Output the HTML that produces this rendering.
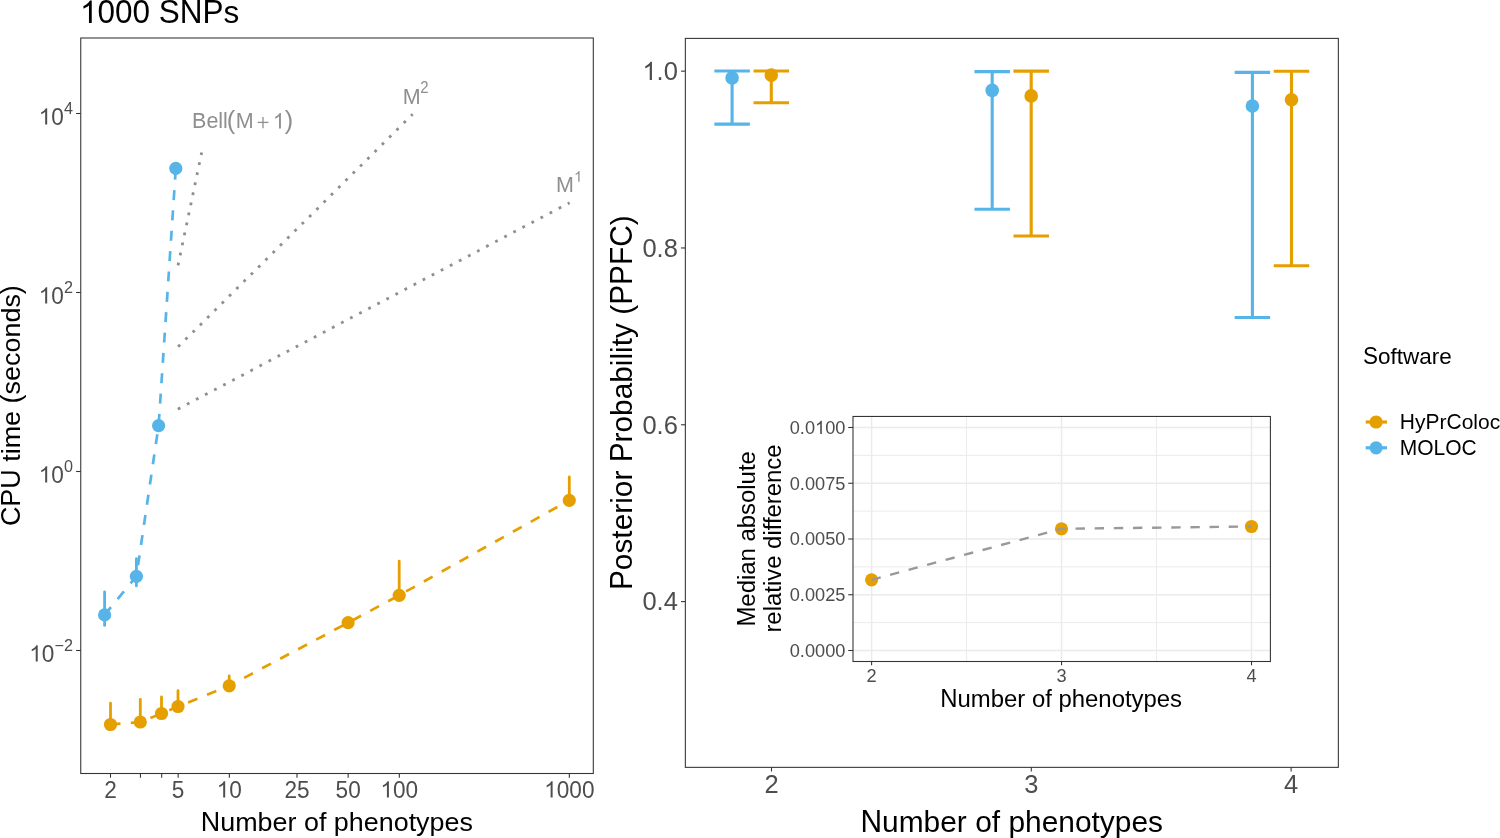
<!DOCTYPE html>
<html><head><meta charset="utf-8"><title>chart</title><style>
html,body{margin:0;padding:0;background:#fff;}
svg{display:block;will-change:transform;}
text{font-family:"Liberation Sans",sans-serif;}
</style></head><body>
<svg width="1500" height="838" viewBox="0 0 1500 838">
<rect width="1500" height="838" fill="#fff"/>
<g transform="translate(80.00 23.05)" font-size="31.50" fill="#000"><path transform="translate(0.00 0) scale(0.01538 -0.01538)" d="M763 0L583 0L583 1147C540 1106 483 1064 413 1023C342 982 279 951 223 930L223 1104C324 1151 412 1209 487 1276C562 1343 615 1407 646 1466L763 1466Z"/><text transform="translate(17.52 0) scale(1 1.04)">000</text><text transform="translate(78.83 0) scale(1 1.04)">SNP</text><text transform="translate(143.60 0) scale(1 0.985)">s</text></g>
<g transform="translate(19.60 526.10) rotate(-90)" font-size="26.93" fill="#000"><text transform="translate(0.00 0) scale(1 1.04)">CPU</text><text transform="translate(64.34 0) scale(1 0.985)">time</text><text x="122.70" y="0">(</text><text transform="translate(131.67 0) scale(1 0.985)">seconds</text><text x="231.97" y="0">)</text></g>
<g transform="translate(200.80 831.40)" font-size="26.90" fill="#000"><text transform="translate(0.00 0) scale(1 1.04)">N</text><text transform="translate(19.43 0) scale(1 0.985)">umber</text><text transform="translate(103.15 0) scale(1 0.985)">of</text><text transform="translate(133.06 0) scale(1 0.985)">phenotypes</text></g>
<line x1="76.10" y1="113.50" x2="80.75" y2="113.50" stroke="#333333" stroke-width="1.07"/>
<g transform="translate(38.75 124.50)" font-size="22.60" fill="#4D4D4D"><path transform="translate(0.00 0) scale(0.01104 -0.01104)" d="M763 0L583 0L583 1147C540 1106 483 1064 413 1023C342 982 279 951 223 930L223 1104C324 1151 412 1209 487 1276C562 1343 615 1407 646 1466L763 1466Z"/><text transform="translate(12.57 0) scale(1 1.04)">0</text></g>
<g transform="translate(63.89 113.70)" font-size="16.20" fill="#4D4D4D"><text transform="translate(0.00 0) scale(1 1.04)">4</text></g>
<line x1="76.10" y1="292.50" x2="80.75" y2="292.50" stroke="#333333" stroke-width="1.07"/>
<g transform="translate(38.75 303.50)" font-size="22.60" fill="#4D4D4D"><path transform="translate(0.00 0) scale(0.01104 -0.01104)" d="M763 0L583 0L583 1147C540 1106 483 1064 413 1023C342 982 279 951 223 930L223 1104C324 1151 412 1209 487 1276C562 1343 615 1407 646 1466L763 1466Z"/><text transform="translate(12.57 0) scale(1 1.04)">0</text></g>
<g transform="translate(63.89 292.70)" font-size="16.20" fill="#4D4D4D"><text transform="translate(0.00 0) scale(1 1.04)">2</text></g>
<line x1="76.10" y1="471.50" x2="80.75" y2="471.50" stroke="#333333" stroke-width="1.07"/>
<g transform="translate(38.75 482.50)" font-size="22.60" fill="#4D4D4D"><path transform="translate(0.00 0) scale(0.01104 -0.01104)" d="M763 0L583 0L583 1147C540 1106 483 1064 413 1023C342 982 279 951 223 930L223 1104C324 1151 412 1209 487 1276C562 1343 615 1407 646 1466L763 1466Z"/><text transform="translate(12.57 0) scale(1 1.04)">0</text></g>
<g transform="translate(63.89 471.70)" font-size="16.20" fill="#4D4D4D"><text transform="translate(0.00 0) scale(1 1.04)">0</text></g>
<line x1="76.10" y1="650.50" x2="80.75" y2="650.50" stroke="#333333" stroke-width="1.07"/>
<g transform="translate(29.29 661.50)" font-size="22.60" fill="#4D4D4D"><path transform="translate(0.00 0) scale(0.01104 -0.01104)" d="M763 0L583 0L583 1147C540 1106 483 1064 413 1023C342 982 279 951 223 930L223 1104C324 1151 412 1209 487 1276C562 1343 615 1407 646 1466L763 1466Z"/><text transform="translate(12.57 0) scale(1 1.04)">0</text></g>
<g transform="translate(54.43 650.70)" font-size="16.20" fill="#4D4D4D"><text x="0.00" y="0">−</text><text transform="translate(9.46 0) scale(1 1.04)">2</text></g>
<line x1="110.50" y1="773.50" x2="110.50" y2="777.70" stroke="#333333" stroke-width="1.07"/>
<line x1="140.44" y1="773.50" x2="140.44" y2="777.70" stroke="#333333" stroke-width="1.07"/>
<line x1="161.68" y1="773.50" x2="161.68" y2="777.70" stroke="#333333" stroke-width="1.07"/>
<line x1="178.15" y1="773.50" x2="178.15" y2="777.70" stroke="#333333" stroke-width="1.07"/>
<line x1="229.32" y1="773.50" x2="229.32" y2="777.70" stroke="#333333" stroke-width="1.07"/>
<line x1="296.97" y1="773.50" x2="296.97" y2="777.70" stroke="#333333" stroke-width="1.07"/>
<line x1="348.15" y1="773.50" x2="348.15" y2="777.70" stroke="#333333" stroke-width="1.07"/>
<line x1="399.32" y1="773.50" x2="399.32" y2="777.70" stroke="#333333" stroke-width="1.07"/>
<line x1="569.32" y1="773.50" x2="569.32" y2="777.70" stroke="#333333" stroke-width="1.07"/>
<g transform="translate(104.22 797.50)" font-size="22.60" fill="#4D4D4D"><text transform="translate(0.00 0) scale(1 1.04)">2</text></g>
<g transform="translate(171.87 797.50)" font-size="22.60" fill="#4D4D4D"><text transform="translate(0.00 0) scale(1 1.04)">5</text></g>
<g transform="translate(216.76 797.50)" font-size="22.60" fill="#4D4D4D"><path transform="translate(0.00 0) scale(0.01104 -0.01104)" d="M763 0L583 0L583 1147C540 1106 483 1064 413 1023C342 982 279 951 223 930L223 1104C324 1151 412 1209 487 1276C562 1343 615 1407 646 1466L763 1466Z"/><text transform="translate(12.57 0) scale(1 1.04)">0</text></g>
<g transform="translate(284.41 797.50)" font-size="22.60" fill="#4D4D4D"><text transform="translate(0.00 0) scale(1 1.04)">25</text></g>
<g transform="translate(335.58 797.50)" font-size="22.60" fill="#4D4D4D"><text transform="translate(0.00 0) scale(1 1.04)">50</text></g>
<g transform="translate(380.47 797.50)" font-size="22.60" fill="#4D4D4D"><path transform="translate(0.00 0) scale(0.01104 -0.01104)" d="M763 0L583 0L583 1147C540 1106 483 1064 413 1023C342 982 279 951 223 930L223 1104C324 1151 412 1209 487 1276C562 1343 615 1407 646 1466L763 1466Z"/><text transform="translate(12.57 0) scale(1 1.04)">00</text></g>
<g transform="translate(544.19 797.50)" font-size="22.60" fill="#4D4D4D"><path transform="translate(0.00 0) scale(0.01104 -0.01104)" d="M763 0L583 0L583 1147C540 1106 483 1064 413 1023C342 982 279 951 223 930L223 1104C324 1151 412 1209 487 1276C562 1343 615 1407 646 1466L763 1466Z"/><text transform="translate(12.57 0) scale(1 1.04)">000</text></g>
<polyline points="178.01,265.37 201.69,152.43" fill="none" stroke="#8F8F8F" stroke-width="2.8" stroke-dasharray="2.8 7.45"/>
<polyline points="178.11,346.79 412.69,114.21" fill="none" stroke="#8F8F8F" stroke-width="2.8" stroke-dasharray="2.8 7.45"/>
<polyline points="177.86,409.15 569.64,202.65" fill="none" stroke="#8F8F8F" stroke-width="2.8" stroke-dasharray="2.8 7.45"/>
<g transform="translate(192.04 128.40)" font-size="21.50" fill="#8F8F8F"><text transform="translate(0.00 0) scale(1 1.04)">B</text><text transform="translate(14.34 0) scale(1 0.985)">ell</text></g>
<g transform="translate(226.63 129.10)" font-size="25.30" fill="#8F8F8F"><text x="0.00" y="0">(</text></g>
<g transform="translate(235.64 128.40)" font-size="21.50" fill="#8F8F8F"><text transform="translate(0.00 0) scale(1 1.04)">M</text></g>
<line x1="257.60" y1="122.40" x2="268.40" y2="122.40" stroke="#8F8F8F" stroke-width="1.3"/>
<line x1="263.00" y1="117.00" x2="263.00" y2="128.20" stroke="#8F8F8F" stroke-width="1.3"/>
<g transform="translate(272.90 128.40)" font-size="21.50" fill="#8F8F8F"><path transform="translate(0.00 0) scale(0.01050 -0.01050)" d="M763 0L583 0L583 1147C540 1106 483 1064 413 1023C342 982 279 951 223 930L223 1104C324 1151 412 1209 487 1276C562 1343 615 1407 646 1466L763 1466Z"/></g>
<g transform="translate(284.85 129.10)" font-size="25.30" fill="#8F8F8F"><text x="0.00" y="0">)</text></g>
<g transform="translate(402.64 103.60)" font-size="21.50" fill="#8F8F8F"><text transform="translate(0.00 0) scale(1 1.04)">M</text></g>
<g transform="translate(420.25 92.70)" font-size="15.00" fill="#8F8F8F"><text transform="translate(0.00 0) scale(1 1.04)">2</text></g>
<g transform="translate(556.00 192.10)" font-size="21.50" fill="#8F8F8F"><text transform="translate(0.00 0) scale(1 1.04)">M</text></g>
<g transform="translate(573.96 181.80)" font-size="15.00" fill="#8F8F8F"><path transform="translate(0.00 0) scale(0.00732 -0.00732)" d="M763 0L583 0L583 1147C540 1106 483 1064 413 1023C342 982 279 951 223 930L223 1104C324 1151 412 1209 487 1276C562 1343 615 1407 646 1466L763 1466Z"/></g>
<polyline points="104.60,614.90 136.40,576.30 158.60,425.60 175.80,168.40" fill="none" stroke="#56B4E9" stroke-width="2.7" stroke-dasharray="10 10.4"/>
<polyline points="110.50,724.50 140.30,722.00 161.50,713.50 178.00,706.50 229.20,685.80 348.10,622.70 399.20,595.30 569.30,500.30" fill="none" stroke="#E69F00" stroke-width="2.7" stroke-dasharray="10 10.4"/>
<line x1="104.60" y1="591.80" x2="104.60" y2="625.40" stroke="#56B4E9" stroke-width="2.8" stroke-linecap="round"/>
<line x1="136.40" y1="558.60" x2="136.40" y2="585.90" stroke="#56B4E9" stroke-width="2.8" stroke-linecap="round"/>
<line x1="110.50" y1="703.20" x2="110.50" y2="724.50" stroke="#E69F00" stroke-width="2.8" stroke-linecap="round"/>
<line x1="140.30" y1="699.40" x2="140.30" y2="722.00" stroke="#E69F00" stroke-width="2.8" stroke-linecap="round"/>
<line x1="161.50" y1="696.90" x2="161.50" y2="713.50" stroke="#E69F00" stroke-width="2.8" stroke-linecap="round"/>
<line x1="178.00" y1="690.70" x2="178.00" y2="706.50" stroke="#E69F00" stroke-width="2.8" stroke-linecap="round"/>
<line x1="229.20" y1="675.90" x2="229.20" y2="685.80" stroke="#E69F00" stroke-width="2.8" stroke-linecap="round"/>
<line x1="399.20" y1="561.10" x2="399.20" y2="595.30" stroke="#E69F00" stroke-width="2.8" stroke-linecap="round"/>
<line x1="569.30" y1="476.90" x2="569.30" y2="500.30" stroke="#E69F00" stroke-width="2.8" stroke-linecap="round"/>
<circle cx="104.60" cy="614.90" r="6.6" fill="#56B4E9"/>
<circle cx="136.40" cy="576.30" r="6.6" fill="#56B4E9"/>
<circle cx="158.60" cy="425.60" r="6.6" fill="#56B4E9"/>
<circle cx="175.80" cy="168.40" r="6.6" fill="#56B4E9"/>
<circle cx="110.50" cy="724.50" r="6.6" fill="#E69F00"/>
<circle cx="140.30" cy="722.00" r="6.6" fill="#E69F00"/>
<circle cx="161.50" cy="713.50" r="6.6" fill="#E69F00"/>
<circle cx="178.00" cy="706.50" r="6.6" fill="#E69F00"/>
<circle cx="229.20" cy="685.80" r="6.6" fill="#E69F00"/>
<circle cx="348.10" cy="622.70" r="6.6" fill="#E69F00"/>
<circle cx="399.20" cy="595.30" r="6.6" fill="#E69F00"/>
<circle cx="569.30" cy="500.30" r="6.6" fill="#E69F00"/>
<rect x="80.75" y="38.00" width="512.55" height="735.50" fill="none" stroke="#333333" stroke-width="1.07"/>
<line x1="681.00" y1="71.15" x2="685.35" y2="71.15" stroke="#333333" stroke-width="1.07"/>
<g transform="translate(642.45 79.95)" font-size="25.50" fill="#4D4D4D"><path transform="translate(0.00 0) scale(0.01245 -0.01245)" d="M763 0L583 0L583 1147C540 1106 483 1064 413 1023C342 982 279 951 223 930L223 1104C324 1151 412 1209 487 1276C562 1343 615 1407 646 1466L763 1466Z"/><text x="14.18" y="0">.</text><text transform="translate(21.27 0) scale(1 1.04)">0</text></g>
<line x1="681.00" y1="247.97" x2="685.35" y2="247.97" stroke="#333333" stroke-width="1.07"/>
<g transform="translate(642.45 256.77)" font-size="25.50" fill="#4D4D4D"><text transform="translate(0.00 0) scale(1 1.04)">0</text><text x="14.18" y="0">.</text><text transform="translate(21.27 0) scale(1 1.04)">8</text></g>
<line x1="681.00" y1="424.79" x2="685.35" y2="424.79" stroke="#333333" stroke-width="1.07"/>
<g transform="translate(642.45 433.59)" font-size="25.50" fill="#4D4D4D"><text transform="translate(0.00 0) scale(1 1.04)">0</text><text x="14.18" y="0">.</text><text transform="translate(21.27 0) scale(1 1.04)">6</text></g>
<line x1="681.00" y1="601.61" x2="685.35" y2="601.61" stroke="#333333" stroke-width="1.07"/>
<g transform="translate(642.45 610.41)" font-size="25.50" fill="#4D4D4D"><text transform="translate(0.00 0) scale(1 1.04)">0</text><text x="14.18" y="0">.</text><text transform="translate(21.27 0) scale(1 1.04)">4</text></g>
<line x1="771.50" y1="767.35" x2="771.50" y2="771.50" stroke="#333333" stroke-width="1.07"/>
<g transform="translate(764.41 793.40)" font-size="25.50" fill="#4D4D4D"><text transform="translate(0.00 0) scale(1 1.04)">2</text></g>
<line x1="1031.30" y1="767.35" x2="1031.30" y2="771.50" stroke="#333333" stroke-width="1.07"/>
<g transform="translate(1024.21 793.40)" font-size="25.50" fill="#4D4D4D"><text transform="translate(0.00 0) scale(1 1.04)">3</text></g>
<line x1="1291.10" y1="767.35" x2="1291.10" y2="771.50" stroke="#333333" stroke-width="1.07"/>
<g transform="translate(1284.01 793.40)" font-size="25.50" fill="#4D4D4D"><text transform="translate(0.00 0) scale(1 1.04)">4</text></g>
<g transform="translate(631.80 590.05) rotate(-90)" font-size="29.84" fill="#000"><text transform="translate(0.00 0) scale(1 1.04)">P</text><text transform="translate(19.90 0) scale(1 0.985)">osterior</text><text transform="translate(127.70 0) scale(1 1.04)">P</text><text transform="translate(147.60 0) scale(1 0.985)">robability</text><text x="275.31" y="0">(</text><text transform="translate(285.25 0) scale(1 1.04)">PPFC</text><text x="364.83" y="0">)</text></g>
<g transform="translate(860.45 831.70)" font-size="29.91" fill="#000"><text transform="translate(0.00 0) scale(1 1.04)">N</text><text transform="translate(21.60 0) scale(1 0.985)">umber</text><text transform="translate(114.69 0) scale(1 0.985)">of</text><text transform="translate(147.94 0) scale(1 0.985)">phenotypes</text></g>
<line x1="732.10" y1="71.00" x2="732.10" y2="124.10" stroke="#56B4E9" stroke-width="3.1"/>
<line x1="714.35" y1="71.00" x2="749.85" y2="71.00" stroke="#56B4E9" stroke-width="3.1"/>
<line x1="714.35" y1="124.10" x2="749.85" y2="124.10" stroke="#56B4E9" stroke-width="3.1"/>
<circle cx="732.10" cy="77.90" r="6.8" fill="#56B4E9"/>
<line x1="771.30" y1="71.00" x2="771.30" y2="102.80" stroke="#E69F00" stroke-width="3.1"/>
<line x1="753.55" y1="71.00" x2="789.05" y2="71.00" stroke="#E69F00" stroke-width="3.1"/>
<line x1="753.55" y1="102.80" x2="789.05" y2="102.80" stroke="#E69F00" stroke-width="3.1"/>
<circle cx="771.30" cy="75.10" r="6.8" fill="#E69F00"/>
<line x1="992.20" y1="71.60" x2="992.20" y2="209.30" stroke="#56B4E9" stroke-width="3.1"/>
<line x1="974.45" y1="71.60" x2="1009.95" y2="71.60" stroke="#56B4E9" stroke-width="3.1"/>
<line x1="974.45" y1="209.30" x2="1009.95" y2="209.30" stroke="#56B4E9" stroke-width="3.1"/>
<circle cx="992.20" cy="90.40" r="6.8" fill="#56B4E9"/>
<line x1="1031.20" y1="71.10" x2="1031.20" y2="236.00" stroke="#E69F00" stroke-width="3.1"/>
<line x1="1013.45" y1="71.10" x2="1048.95" y2="71.10" stroke="#E69F00" stroke-width="3.1"/>
<line x1="1013.45" y1="236.00" x2="1048.95" y2="236.00" stroke="#E69F00" stroke-width="3.1"/>
<circle cx="1031.20" cy="95.90" r="6.8" fill="#E69F00"/>
<line x1="1252.40" y1="72.40" x2="1252.40" y2="317.50" stroke="#56B4E9" stroke-width="3.1"/>
<line x1="1234.65" y1="72.40" x2="1270.15" y2="72.40" stroke="#56B4E9" stroke-width="3.1"/>
<line x1="1234.65" y1="317.50" x2="1270.15" y2="317.50" stroke="#56B4E9" stroke-width="3.1"/>
<circle cx="1252.40" cy="106.00" r="6.8" fill="#56B4E9"/>
<line x1="1291.50" y1="71.20" x2="1291.50" y2="265.80" stroke="#E69F00" stroke-width="3.1"/>
<line x1="1273.75" y1="71.20" x2="1309.25" y2="71.20" stroke="#E69F00" stroke-width="3.1"/>
<line x1="1273.75" y1="265.80" x2="1309.25" y2="265.80" stroke="#E69F00" stroke-width="3.1"/>
<circle cx="1291.50" cy="99.70" r="6.8" fill="#E69F00"/>
<rect x="853.0" y="416.45" width="417.40" height="245.05" fill="#fff"/>
<line x1="853.00" y1="622.62" x2="1270.40" y2="622.62" stroke="#EBEBEB" stroke-width="1.0"/>
<line x1="853.00" y1="566.88" x2="1270.40" y2="566.88" stroke="#EBEBEB" stroke-width="1.0"/>
<line x1="853.00" y1="511.12" x2="1270.40" y2="511.12" stroke="#EBEBEB" stroke-width="1.0"/>
<line x1="853.00" y1="455.38" x2="1270.40" y2="455.38" stroke="#EBEBEB" stroke-width="1.0"/>
<line x1="966.58" y1="416.45" x2="966.58" y2="661.50" stroke="#EBEBEB" stroke-width="1.0"/>
<line x1="1156.53" y1="416.45" x2="1156.53" y2="661.50" stroke="#EBEBEB" stroke-width="1.0"/>
<line x1="853.00" y1="650.50" x2="1270.40" y2="650.50" stroke="#EBEBEB" stroke-width="1.5"/>
<line x1="853.00" y1="594.75" x2="1270.40" y2="594.75" stroke="#EBEBEB" stroke-width="1.5"/>
<line x1="853.00" y1="539.00" x2="1270.40" y2="539.00" stroke="#EBEBEB" stroke-width="1.5"/>
<line x1="853.00" y1="483.25" x2="1270.40" y2="483.25" stroke="#EBEBEB" stroke-width="1.5"/>
<line x1="853.00" y1="427.50" x2="1270.40" y2="427.50" stroke="#EBEBEB" stroke-width="1.5"/>
<line x1="871.60" y1="416.45" x2="871.60" y2="661.50" stroke="#EBEBEB" stroke-width="1.5"/>
<line x1="1061.55" y1="416.45" x2="1061.55" y2="661.50" stroke="#EBEBEB" stroke-width="1.5"/>
<line x1="1251.50" y1="416.45" x2="1251.50" y2="661.50" stroke="#EBEBEB" stroke-width="1.5"/>
<line x1="848.20" y1="650.50" x2="853.00" y2="650.50" stroke="#333333" stroke-width="1.07"/>
<g transform="translate(789.73 656.90)" font-size="18.20" fill="#4D4D4D"><text transform="translate(0.00 0) scale(1 1.04)">0</text><text x="10.12" y="0">.</text><text transform="translate(15.18 0) scale(1 1.04)">0000</text></g>
<line x1="848.20" y1="594.75" x2="853.00" y2="594.75" stroke="#333333" stroke-width="1.07"/>
<g transform="translate(789.73 601.15)" font-size="18.20" fill="#4D4D4D"><text transform="translate(0.00 0) scale(1 1.04)">0</text><text x="10.12" y="0">.</text><text transform="translate(15.18 0) scale(1 1.04)">0025</text></g>
<line x1="848.20" y1="539.00" x2="853.00" y2="539.00" stroke="#333333" stroke-width="1.07"/>
<g transform="translate(789.73 545.40)" font-size="18.20" fill="#4D4D4D"><text transform="translate(0.00 0) scale(1 1.04)">0</text><text x="10.12" y="0">.</text><text transform="translate(15.18 0) scale(1 1.04)">0050</text></g>
<line x1="848.20" y1="483.25" x2="853.00" y2="483.25" stroke="#333333" stroke-width="1.07"/>
<g transform="translate(789.73 489.65)" font-size="18.20" fill="#4D4D4D"><text transform="translate(0.00 0) scale(1 1.04)">0</text><text x="10.12" y="0">.</text><text transform="translate(15.18 0) scale(1 1.04)">0075</text></g>
<line x1="848.20" y1="427.50" x2="853.00" y2="427.50" stroke="#333333" stroke-width="1.07"/>
<g transform="translate(789.73 433.90)" font-size="18.20" fill="#4D4D4D"><text transform="translate(0.00 0) scale(1 1.04)">0</text><text x="10.12" y="0">.</text><text transform="translate(15.18 0) scale(1 1.04)">0</text><path transform="translate(25.30 0) scale(0.00889 -0.00889)" d="M763 0L583 0L583 1147C540 1106 483 1064 413 1023C342 982 279 951 223 930L223 1104C324 1151 412 1209 487 1276C562 1343 615 1407 646 1466L763 1466Z"/><text transform="translate(35.42 0) scale(1 1.04)">00</text></g>
<line x1="871.60" y1="661.50" x2="871.60" y2="665.30" stroke="#333333" stroke-width="1.07"/>
<g transform="translate(866.54 681.80)" font-size="18.20" fill="#4D4D4D"><text transform="translate(0.00 0) scale(1 1.04)">2</text></g>
<line x1="1061.55" y1="661.50" x2="1061.55" y2="665.30" stroke="#333333" stroke-width="1.07"/>
<g transform="translate(1056.49 681.80)" font-size="18.20" fill="#4D4D4D"><text transform="translate(0.00 0) scale(1 1.04)">3</text></g>
<line x1="1251.50" y1="661.50" x2="1251.50" y2="665.30" stroke="#333333" stroke-width="1.07"/>
<g transform="translate(1246.44 681.80)" font-size="18.20" fill="#4D4D4D"><text transform="translate(0.00 0) scale(1 1.04)">4</text></g>
<circle cx="871.60" cy="579.80" r="6.6" fill="#E69F00"/>
<circle cx="1061.50" cy="528.80" r="6.6" fill="#E69F00"/>
<circle cx="1251.50" cy="526.50" r="6.6" fill="#E69F00"/>
<polyline points="871.60,579.80 1061.50,528.80 1251.50,526.50" fill="none" stroke="#999999" stroke-width="2.4" stroke-dasharray="9.4 9.75"/>
<rect x="853.00" y="416.45" width="417.40" height="245.05" fill="none" stroke="#333333" stroke-width="1.07"/>
<g transform="translate(755.30 626.56) rotate(-90)" font-size="23.90" fill="#000"><text transform="translate(0.00 0) scale(1 1.04)">M</text><text transform="translate(19.91 0) scale(1 0.985)">edian</text><text transform="translate(85.03 0) scale(1 0.985)">absolute</text></g>
<g transform="translate(781.00 632.60) rotate(-90)" font-size="23.90" fill="#000"><text transform="translate(0.00 0) scale(1 0.985)">relative</text><text transform="translate(83.69 0) scale(1 0.985)">difference</text></g>
<g transform="translate(940.20 706.80)" font-size="23.91" fill="#000"><text transform="translate(0.00 0) scale(1 1.04)">N</text><text transform="translate(17.27 0) scale(1 0.985)">umber</text><text transform="translate(91.68 0) scale(1 0.985)">of</text><text transform="translate(118.27 0) scale(1 0.985)">phenotypes</text></g>
<rect x="685.35" y="38.40" width="653.00" height="728.95" fill="none" stroke="#333333" stroke-width="1.07"/>
<g transform="translate(1362.97 363.50)" font-size="22.48" fill="#000"><text transform="translate(0.00 0) scale(1 1.04)">S</text><text transform="translate(14.99 0) scale(1 0.985)">oftware</text></g>
<line x1="1365.70" y1="422.00" x2="1387.00" y2="422.00" stroke="#E69F00" stroke-width="3.2"/>
<circle cx="1376.10" cy="422.00" r="6.6" fill="#E69F00"/>
<g transform="translate(1399.80 429.30)" font-size="21.00" fill="#000"><text transform="translate(0.00 0) scale(1 1.04)">H</text><text transform="translate(15.17 0) scale(1 0.985)">y</text><text transform="translate(25.67 0) scale(1 1.04)">P</text><text transform="translate(39.67 0) scale(1 0.985)">r</text><text transform="translate(46.67 0) scale(1 1.04)">C</text><text transform="translate(61.83 0) scale(1 0.985)">oloc</text></g>
<line x1="1365.70" y1="447.80" x2="1387.00" y2="447.80" stroke="#56B4E9" stroke-width="3.2"/>
<circle cx="1376.10" cy="447.80" r="6.6" fill="#56B4E9"/>
<g transform="translate(1399.80 455.10)" font-size="21.00" fill="#000"><text transform="translate(0.00 0) scale(1 1.04)">MOLOC</text></g>
</svg></body></html>
